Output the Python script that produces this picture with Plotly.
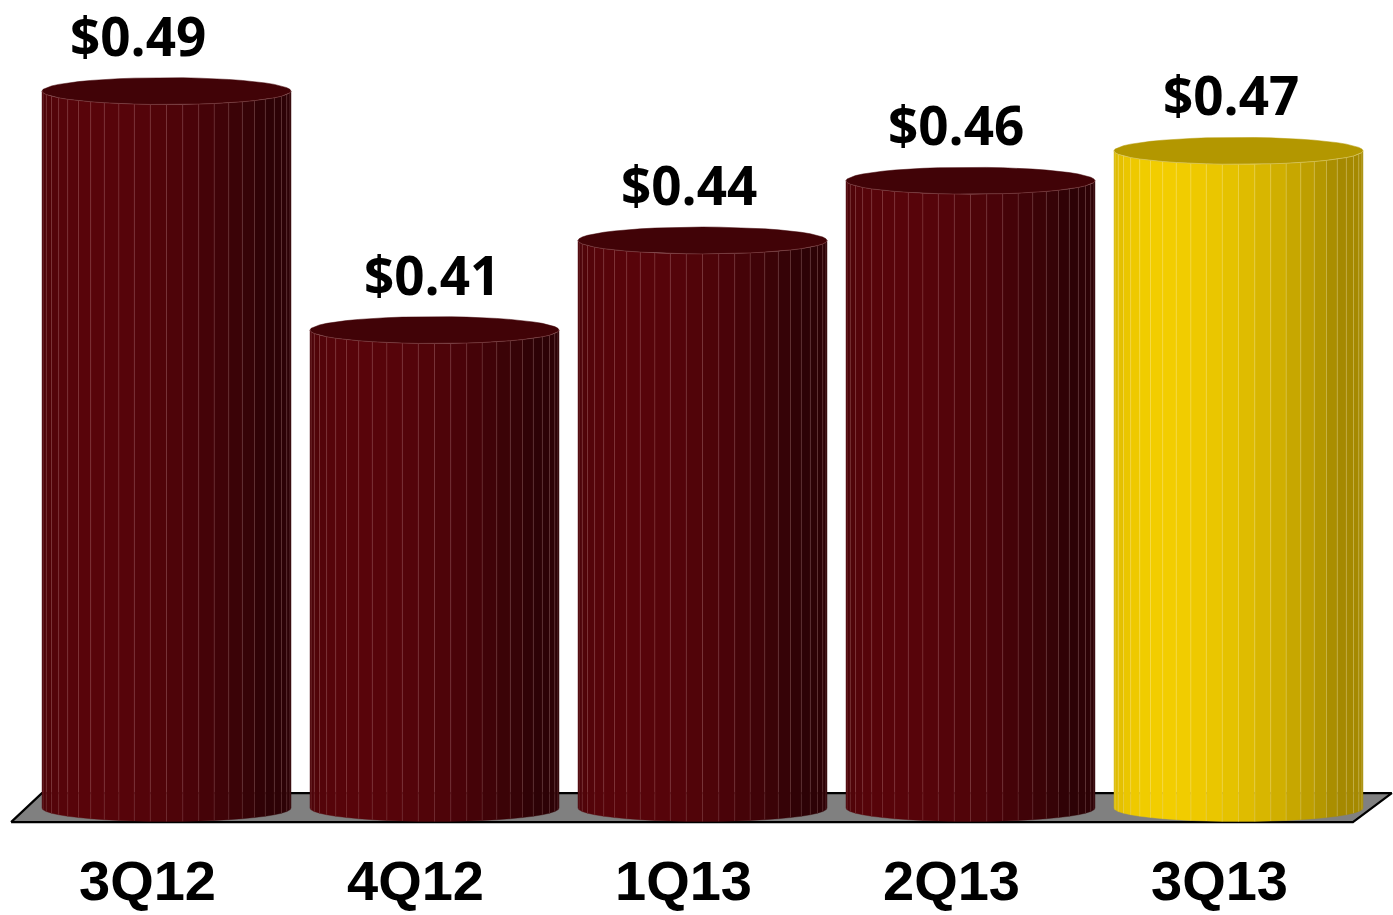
import numpy as np
import plotly.graph_objects as go

# Quarterly EPS
quarters = ["3Q12", "4Q12", "1Q13", "2Q13", "3Q13"]
eps = [0.49, 0.41, 0.44, 0.46, 0.47]
highlight = [False, False, False, False, True]

# value at the cylinder base / floor plane
BASE = 0.25

# cylinder geometry (x in category units, y in value units)
RADIUS = 0.4646
ELL = 0.0045
N_FACETS = 24
LIGHT_ANGLE = -0.65

# horizontal nudges (px) for the value labels
LABEL_NUDGE = [-29, -3, -14, -15, -8]

PALETTES = {
    False: {"dark": (36, 2, 5), "light": (88, 4, 10), "top": "#410307",
            "edge": "rgba(255,190,190,0.2)"},
    True: {"dark": (148, 122, 0), "light": (242, 205, 0), "top": "#b39700",
           "edge": "rgba(255,245,190,0.35)"},
}


def mix(dark, light, t):
    c = [int(round(d + (l - d) * t)) for d, l in zip(dark, light)]
    return f"rgb({c[0]},{c[1]},{c[2]})"


fig = go.Figure()

# floor plane
n = len(quarters)
floor_x = [-0.580, n - 1 + 0.427, n - 1 + 0.572, -0.465, -0.580]
floor_y = [BASE - 0.0047, BASE - 0.0047, BASE + 0.0050, BASE + 0.0050, BASE - 0.0047]
fig.add_trace(go.Scatter(
    x=floor_x, y=floor_y, mode="lines", fill="toself",
    fillcolor="#808080", line=dict(color="#000000", width=2.2),
    hoverinfo="skip", showlegend=False,
))

phis = np.linspace(-np.pi / 2, np.pi / 2, N_FACETS + 1)
for i, (q, v, hl) in enumerate(zip(quarters, eps, highlight)):
    pal = PALETTES[hl]
    # side facets
    for k in range(N_FACETS):
        p0, p1 = phis[k], phis[k + 1]
        pm = 0.5 * (p0 + p1)
        t = 0.18 + 0.82 * max(0.0, np.cos(pm - LIGHT_ANGLE))
        color = mix(pal["dark"], pal["light"], t)
        x0, x1 = i + RADIUS * np.sin(p0), i + RADIUS * np.sin(p1)
        yb0, yb1 = BASE - ELL * np.cos(p0), BASE - ELL * np.cos(p1)
        yt0, yt1 = v - ELL * np.cos(p0), v - ELL * np.cos(p1)
        fig.add_trace(go.Scatter(
            x=[x0, x1, x1, x0, x0], y=[yb0, yb1, yt1, yt0, yb0],
            mode="lines", fill="toself", fillcolor=color,
            line=dict(color=color, width=0.4),
            hoverinfo="skip", showlegend=False,
        ))
        if 0 < k:
            fig.add_trace(go.Scatter(
                x=[x0, x0], y=[yb0, yt0], mode="lines",
                line=dict(color=pal["edge"], width=0.8),
                hoverinfo="skip", showlegend=False,
            ))
    # top cap
    ang = np.linspace(0, 2 * np.pi, 2 * N_FACETS + 1)
    fig.add_trace(go.Scatter(
        x=i + RADIUS * np.sin(ang - np.pi / 2),
        y=v - ELL * np.cos(ang - np.pi / 2),
        mode="lines", fill="toself", fillcolor=pal["top"],
        line=dict(color=pal["top"], width=0.5),
        hoverinfo="skip", showlegend=False,
    ))
    # front rim highlight
    fig.add_trace(go.Scatter(
        x=i + RADIUS * np.sin(phis), y=v - ELL * np.cos(phis),
        mode="lines", line=dict(color=pal["edge"], width=1),
        hoverinfo="skip", showlegend=False,
    ))

# value labels
for i, v in enumerate(eps):
    fig.add_annotation(
        x=i, y=v, xref="x", yref="y", text=f"<b>${v:.2f}</b>",
        showarrow=False, yshift=56, xshift=LABEL_NUDGE[i], borderpad=0,
        font=dict(family="Open Sans", size=53, color="#000000"),
    )

# category labels along the front edge of the floor
for i, q in enumerate(quarters):
    fig.add_annotation(
        x=i - 0.071, y=BASE - 0.0241, xref="x", yref="y", text=f"<b>{q}</b>",
        showarrow=False,
        font=dict(family="Liberation Sans", size=56, color="#000000"),
    )

fig.update_layout(
    width=1393, height=915,
    margin=dict(l=0, r=0, t=0, b=0),
    paper_bgcolor="#ffffff", plot_bgcolor="#ffffff",
    xaxis=dict(visible=False, range=[-0.6213, 4.5765], fixedrange=True),
    yaxis=dict(visible=False, range=[0.2142, 0.5205], fixedrange=True),
    showlegend=False,
)

fig.write_html("out.html")
